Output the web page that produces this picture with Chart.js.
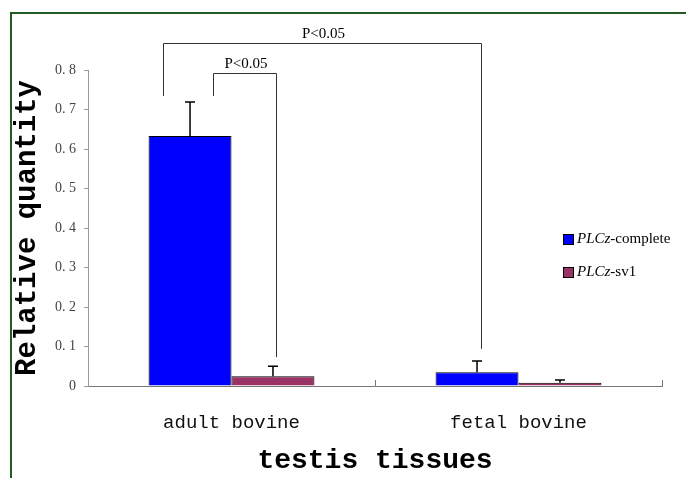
<!DOCTYPE html>
<html>
<head>
<meta charset="utf-8">
<script src="https://cdn.jsdelivr.net/npm/chart.js@4/dist/chart.umd.min.js"></script>
<style>
  html, body { margin: 0; padding: 0; background: #fff; }
  #wrap { width: 686px; height: 478px; }
</style>
</head>
<body>
<div id="wrap"><canvas id="chart" width="686" height="478"></canvas></div>
<script>
/* ---------- data ---------- */
const categories = ["adult bovine", "fetal bovine"];
const seriesNames = ["-complete", "-sv1"];
const completeVals = [0.633, 0.035];
const completeErr = [0.086, 0.028];
const sv1Vals = [0.025, 0.008];
const sv1Err = [0.025, 0.007];
const yTicks = [0, 0.1, 0.2, 0.3, 0.4, 0.5, 0.6, 0.7, 0.8];

// significance brackets: x in category units, y in data units
const brackets = [
  { label: "P<0.05", x1: -0.24, x2: 0.87, top: 0.868, y1: 0.734, y2: 0.094 },
  { label: "P<0.05", x1: -0.065, x2: 0.155, top: 0.792, y1: 0.734, y2: 0.073 }
];

const colors = ["#0000ff", "#993366"];

/* ---------- extras plugin ---------- */
const extras = {
  id: "extras",
  beforeDraw(chart) {
    const ctx = chart.ctx;
    ctx.save();
    ctx.strokeStyle = "#235b23";
    ctx.lineWidth = 2;
    ctx.beginPath();
    ctx.moveTo(11, 490);
    ctx.lineTo(11, 13);
    ctx.lineTo(700, 13);
    ctx.stroke();
    ctx.restore();
  },
  afterDatasetsDraw(chart) {
    const ctx = chart.ctx;
    const x = chart.scales.x, y = chart.scales.y;
    const errs = [completeErr, sv1Err];
    ctx.save();

    // error bars (upper only)
    ctx.strokeStyle = "#000";
    ctx.lineWidth = 1.5;
    chart.data.datasets.forEach((ds, di) => {
      chart.getDatasetMeta(di).data.forEach((bar, i) => {
        const top = y.getPixelForValue(ds.data[i] + errs[di][i]);
        ctx.beginPath();
        ctx.moveTo(bar.x, bar.y);
        ctx.lineTo(bar.x, top);
        ctx.moveTo(bar.x - 5, top);
        ctx.lineTo(bar.x + 5, top);
        ctx.stroke();
      });
    });

    // category divider ticks
    ctx.strokeStyle = "#777";
    ctx.lineWidth = 1;
    const cw = x.getPixelForValue(1) - x.getPixelForValue(0);
    [0.5, 1.5].forEach(v => {
      const px = Math.round(x.getPixelForValue(0) + v * cw) + 0.5;
      ctx.beginPath();
      ctx.moveTo(px, y.bottom);
      ctx.lineTo(px, y.bottom - 6);
      ctx.stroke();
    });

    // brackets
    ctx.strokeStyle = "#333";
    ctx.fillStyle = "#000";
    ctx.font = "15px 'Liberation Serif'";
    ctx.textAlign = "center";
    ctx.textBaseline = "bottom";
    brackets.forEach(b => {
      const px1 = Math.round(x.getPixelForValue(0) + b.x1 * cw) + 0.5;
      const px2 = Math.round(x.getPixelForValue(0) + b.x2 * cw) + 0.5;
      const pt = Math.round(y.getPixelForValue(b.top)) + 0.5;
      ctx.beginPath();
      ctx.moveTo(px1, y.getPixelForValue(b.y1));
      ctx.lineTo(px1, pt);
      ctx.lineTo(px2, pt);
      ctx.lineTo(px2, y.getPixelForValue(b.y2));
      ctx.stroke();
      ctx.fillText(b.label, (px1 + px2) / 2 + 1, pt - 2);
    });

    // legend
    ctx.textAlign = "left";
    ctx.textBaseline = "middle";
    const legY = [239, 272];
    seriesNames.forEach((name, i) => {
      ctx.fillStyle = colors[i];
      ctx.fillRect(563, legY[i] - 5, 10, 10);
      ctx.strokeStyle = "#000";
      ctx.strokeRect(563.5, legY[i] - 4.5, 10, 10);
      ctx.fillStyle = "#000";
      ctx.font = "italic 15px 'Liberation Serif'";
      ctx.fillText("PLCz", 577, legY[i]);
      const w = ctx.measureText("PLCz").width;
      ctx.font = "15px 'Liberation Serif'";
      ctx.fillText(name, 577 + w, legY[i]);
    });
    ctx.restore();
  }
};

/* ---------- chart ---------- */
new Chart(document.getElementById("chart"), {
  type: "bar",
  data: {
    labels: categories,
    datasets: [
      { label: "PLCz-complete", data: completeVals, backgroundColor: colors[0] },
      { label: "PLCz-sv1", data: sv1Vals, backgroundColor: colors[1] }
    ]
  },
  options: {
    responsive: false,
    animation: false,
    layout: { padding: { top: 70, right: 24, left: 10, bottom: 0 } },
    datasets: {
      bar: {
        categoryPercentage: 0.578,
        barPercentage: 1,
        borderColor: "#000",
        borderWidth: 1,
        borderSkipped: "bottom"
      }
    },
    plugins: { legend: { display: false }, tooltip: { enabled: false } },
    scales: {
      x: {
        grid: { display: false },
        border: { color: "#777", width: 1 },
        ticks: {
          color: "#111",
          padding: 18,
          font: { family: "'Liberation Mono'", size: 19 }
        },
        title: {
          display: true,
          text: "testis tissues",
          color: "#000",
          padding: 0,
          font: { family: "'Liberation Mono'", size: 28, weight: "bold" }
        },
        afterFit: s => { s.height = 92; }
      },
      y: {
        min: 0,
        max: 0.8,
        afterBuildTicks: s => { s.ticks = yTicks.map(v => ({ value: v })); },
        grid: { drawOnChartArea: false, tickLength: 4, color: "#999" },
        border: { color: "#999", width: 1 },
        ticks: {
          color: "#444",
          padding: 8,
          font: { family: "'Liberation Serif'", size: 14 },
          callback: v => v === 0 ? "0" : v.toFixed(1).replace(".", ". ")
        },
        title: {
          display: true,
          text: "Relative quantity",
          color: "#000",
          padding: 0,
          font: { family: "'Liberation Mono'", size: 29, weight: "bold" }
        },
        afterFit: s => { s.width = 78; }
      }
    }
  },
  plugins: [extras]
});
</script>
</body>
</html>
